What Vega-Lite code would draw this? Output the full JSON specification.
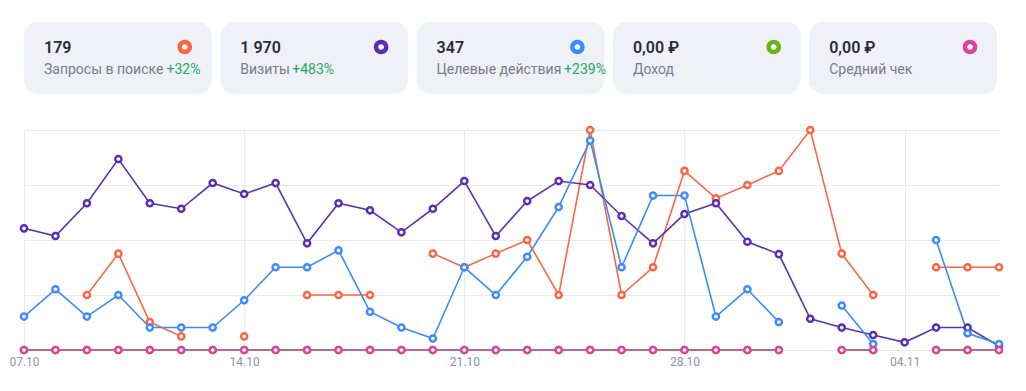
{
  "$schema": "https://vega.github.io/schema/vega-lite/v6.json",
  "padding": {"left": 8, "top": 22, "right": 0, "bottom": 0},
  "autosize": {"type": "pad"},
  "bounds": "flush",
  "spacing": 36,
  "background": "white",
  "config": {"view": {"stroke": null}, "font": "Roboto"},
  "vconcat": [
    {
      "width": 973,
      "height": 72,
      "data": {"values": [
        {"metric": "queries", "value": "179", "caption": "Запросы в поиске", "change": "+32%"},
        {"metric": "visits", "value": "1 970", "caption": "Визиты", "change": "+483%"},
        {"metric": "goals", "value": "347", "caption": "Целевые действия", "change": "+239%"},
        {"metric": "income", "value": "0,00 ₽", "caption": "Доход", "change": null},
        {"metric": "avgcheck", "value": "0,00 ₽", "caption": "Средний чек", "change": null}
      ]},
      "layer": [
        {
          "mark": {"type": "rect", "cornerRadius": 14, "color": "#f0f1f6"},
          "encoding": {
            "x": {"field": "metric", "type": "nominal", "sort": null, "axis": null,
                  "scale": {"paddingInner": 0.0433, "paddingOuter": 0}}
          }
        },
        {
          "mark": {"type": "text", "align": "left", "baseline": "alphabetic", "dx": 20, "y": 52,
                   "fontSize": 14, "color": "#767c8e"},
          "encoding": {
            "x": {"field": "metric", "type": "nominal", "sort": null, "bandPosition": 0},
            "text": {"field": "caption"}
          }
        },
        {
          "transform": [{"filter": "datum.change != null"}],
          "mark": {"type": "text", "align": "left", "baseline": "alphabetic", "y": 52,
                   "dx": {"expr": "23.7 + 3.05 * length(datum.caption) + 5.0 * length(replace(datum.caption, regexp(' ', 'g'), ''))"},
                   "fontSize": 14, "color": "#22a862"},
          "encoding": {
            "x": {"field": "metric", "type": "nominal", "sort": null, "bandPosition": 0},
            "text": {"field": "change"}
          }
        },
        {
          "mark": {"type": "text", "align": "left", "baseline": "alphabetic", "dx": 20, "y": 31,
                   "fontSize": 16, "fontWeight": 600, "color": "#262c40"},
          "encoding": {
            "x": {"field": "metric", "type": "nominal", "sort": null, "bandPosition": 0},
            "text": {"field": "value"}
          }
        },
        {
          "mark": {"type": "point", "shape": "circle", "filled": true, "fill": "white", "opacity": 1,
                   "strokeWidth": 4.5, "size": 104, "xOffset": -27, "y": 25},
          "encoding": {
            "x": {"field": "metric", "type": "nominal", "sort": null, "bandPosition": 1},
            "stroke": {"field": "metric", "type": "nominal", "legend": null,
                       "scale": {"domain": ["queries", "visits", "goals", "income", "avgcheck"],
                                 "range": ["#fe6440", "#5a2db5", "#3d8bff", "#66b416", "#e040a2"]}}
          }
        }
      ]
    },
    {
      "width": 975,
      "height": 220,
      "data": {"values": [
        {"date": "2024-10-07", "queries": null, "visits": 55.3, "goals": 15.2, "income": 0, "avgcheck": 0},
        {"date": "2024-10-08", "queries": null, "visits": 51.8, "goals": 27.6, "income": 0, "avgcheck": 0},
        {"date": "2024-10-09", "queries": 25, "visits": 66.7, "goals": 15.2, "income": 0, "avgcheck": 0},
        {"date": "2024-10-10", "queries": 43.8, "visits": 86.8, "goals": 25, "income": 0, "avgcheck": 0},
        {"date": "2024-10-11", "queries": 12.7, "visits": 66.7, "goals": 10.2, "income": 0, "avgcheck": 0},
        {"date": "2024-10-12", "queries": 6.2, "visits": 64.2, "goals": 10.2, "income": 0, "avgcheck": 0},
        {"date": "2024-10-13", "queries": null, "visits": 75.9, "goals": 10.2, "income": 0, "avgcheck": 0},
        {"date": "2024-10-14", "queries": 6.2, "visits": 70.9, "goals": 22.6, "income": 0, "avgcheck": 0},
        {"date": "2024-10-15", "queries": null, "visits": 75.9, "goals": 37.6, "income": 0, "avgcheck": 0},
        {"date": "2024-10-16", "queries": 25, "visits": 48.5, "goals": 37.6, "income": 0, "avgcheck": 0},
        {"date": "2024-10-17", "queries": 25, "visits": 66.7, "goals": 45.3, "income": 0, "avgcheck": 0},
        {"date": "2024-10-18", "queries": 25, "visits": 63.5, "goals": 17.4, "income": 0, "avgcheck": 0},
        {"date": "2024-10-19", "queries": null, "visits": 53.5, "goals": 10.2, "income": 0, "avgcheck": 0},
        {"date": "2024-10-20", "queries": 43.8, "visits": 64.2, "goals": 5.2, "income": 0, "avgcheck": 0},
        {"date": "2024-10-21", "queries": 37.6, "visits": 76.8, "goals": 37.6, "income": 0, "avgcheck": 0},
        {"date": "2024-10-22", "queries": 43.8, "visits": 51.8, "goals": 25, "income": 0, "avgcheck": 0},
        {"date": "2024-10-23", "queries": 50, "visits": 67.7, "goals": 42.4, "income": 0, "avgcheck": 0},
        {"date": "2024-10-24", "queries": 25, "visits": 76.8, "goals": 65, "income": 0, "avgcheck": 0},
        {"date": "2024-10-25", "queries": 100, "visits": 75, "goals": 95.2, "income": 0, "avgcheck": 0},
        {"date": "2024-10-26", "queries": 25, "visits": 60.9, "goals": 37.6, "income": 0, "avgcheck": 0},
        {"date": "2024-10-27", "queries": 37.6, "visits": 48.5, "goals": 70.2, "income": 0, "avgcheck": 0},
        {"date": "2024-10-28", "queries": 81.4, "visits": 61.8, "goals": 70.2, "income": 0, "avgcheck": 0},
        {"date": "2024-10-29", "queries": 68.9, "visits": 66.7, "goals": 15.2, "income": 0, "avgcheck": 0},
        {"date": "2024-10-30", "queries": 75, "visits": 49.2, "goals": 27.6, "income": 0, "avgcheck": 0},
        {"date": "2024-10-31", "queries": 81.4, "visits": 43.6, "goals": 12.7, "income": 0, "avgcheck": 0},
        {"date": "2024-11-01", "queries": 100, "visits": 14.2, "goals": null, "income": null, "avgcheck": null},
        {"date": "2024-11-02", "queries": 43.8, "visits": 10.2, "goals": 20.2, "income": 0, "avgcheck": 0},
        {"date": "2024-11-03", "queries": 25, "visits": 6.8, "goals": 2.7, "income": 0, "avgcheck": 0},
        {"date": "2024-11-04", "queries": null, "visits": 3.5, "goals": null, "income": null, "avgcheck": null},
        {"date": "2024-11-05", "queries": 37.6, "visits": 10.2, "goals": 50, "income": 0, "avgcheck": 0},
        {"date": "2024-11-06", "queries": 37.6, "visits": 10.2, "goals": 7.6, "income": 0, "avgcheck": 0},
        {"date": "2024-11-07", "queries": 37.6, "visits": 1.8, "goals": 2.7, "income": 0, "avgcheck": 0}
      ]},
      "transform": [{"fold": ["queries", "visits", "goals", "income", "avgcheck"], "as": ["metric", "value"]}],
      "encoding": {
        "x": {"field": "date", "type": "temporal",
              "scale": {"type": "utc",
                        "domain": [{"year": 2024, "month": 10, "date": 7, "utc": true},
                                   {"year": 2024, "month": 11, "date": 7, "utc": true}]},
              "axis": {"title": null, "values": [
                          {"year": 2024, "month": 10, "date": 7, "utc": true},
                          {"year": 2024, "month": 10, "date": 14, "utc": true},
                          {"year": 2024, "month": 10, "date": 21, "utc": true},
                          {"year": 2024, "month": 10, "date": 28, "utc": true},
                          {"year": 2024, "month": 11, "date": 4, "utc": true}],
                       "format": "%d.%m", "labelFlush": false,
                       "domain": false, "ticks": false, "grid": true, "gridColor": "#e9eaee",
                       "labelFontSize": 12, "labelColor": "#8e94a4", "labelPadding": 6,
                       "labelFont": "Roboto"}},
        "y": {"field": "value", "type": "quantitative",
              "scale": {"domain": [0, 100], "nice": false},
              "axis": {"title": null, "values": [0, 25, 50, 75, 100], "labels": false,
                       "ticks": false, "domain": false, "grid": true, "gridColor": "#e9eaee"}}
      },
      "layer": [
        {
          "mark": {"type": "line", "strokeWidth": 1.6, "invalid": "break-paths-filter-domains", "clip": false},
          "encoding": {
            "color": {"field": "metric", "type": "nominal", "legend": null,
                      "scale": {"domain": ["queries", "visits", "goals", "income", "avgcheck"],
                                "range": ["#fd6646", "#5b34b0", "#3b8cf8", "#66b416", "#cc4a9e"]}}
          }
        },
        {
          "transform": [{"filter": "datum.value != null"}],
          "mark": {"type": "point", "shape": "circle", "filled": true, "fill": "white", "opacity": 1,
                   "strokeWidth": 2.5, "size": 38, "clip": false},
          "encoding": {
            "stroke": {"field": "metric", "type": "nominal", "legend": null,
                       "scale": {"domain": ["queries", "visits", "goals", "income", "avgcheck"],
                                 "range": ["#fd6646", "#5b34b0", "#3b8cf8", "#66b416", "#da44a4"]}}
          }
        }
      ]
    }
  ]
}
